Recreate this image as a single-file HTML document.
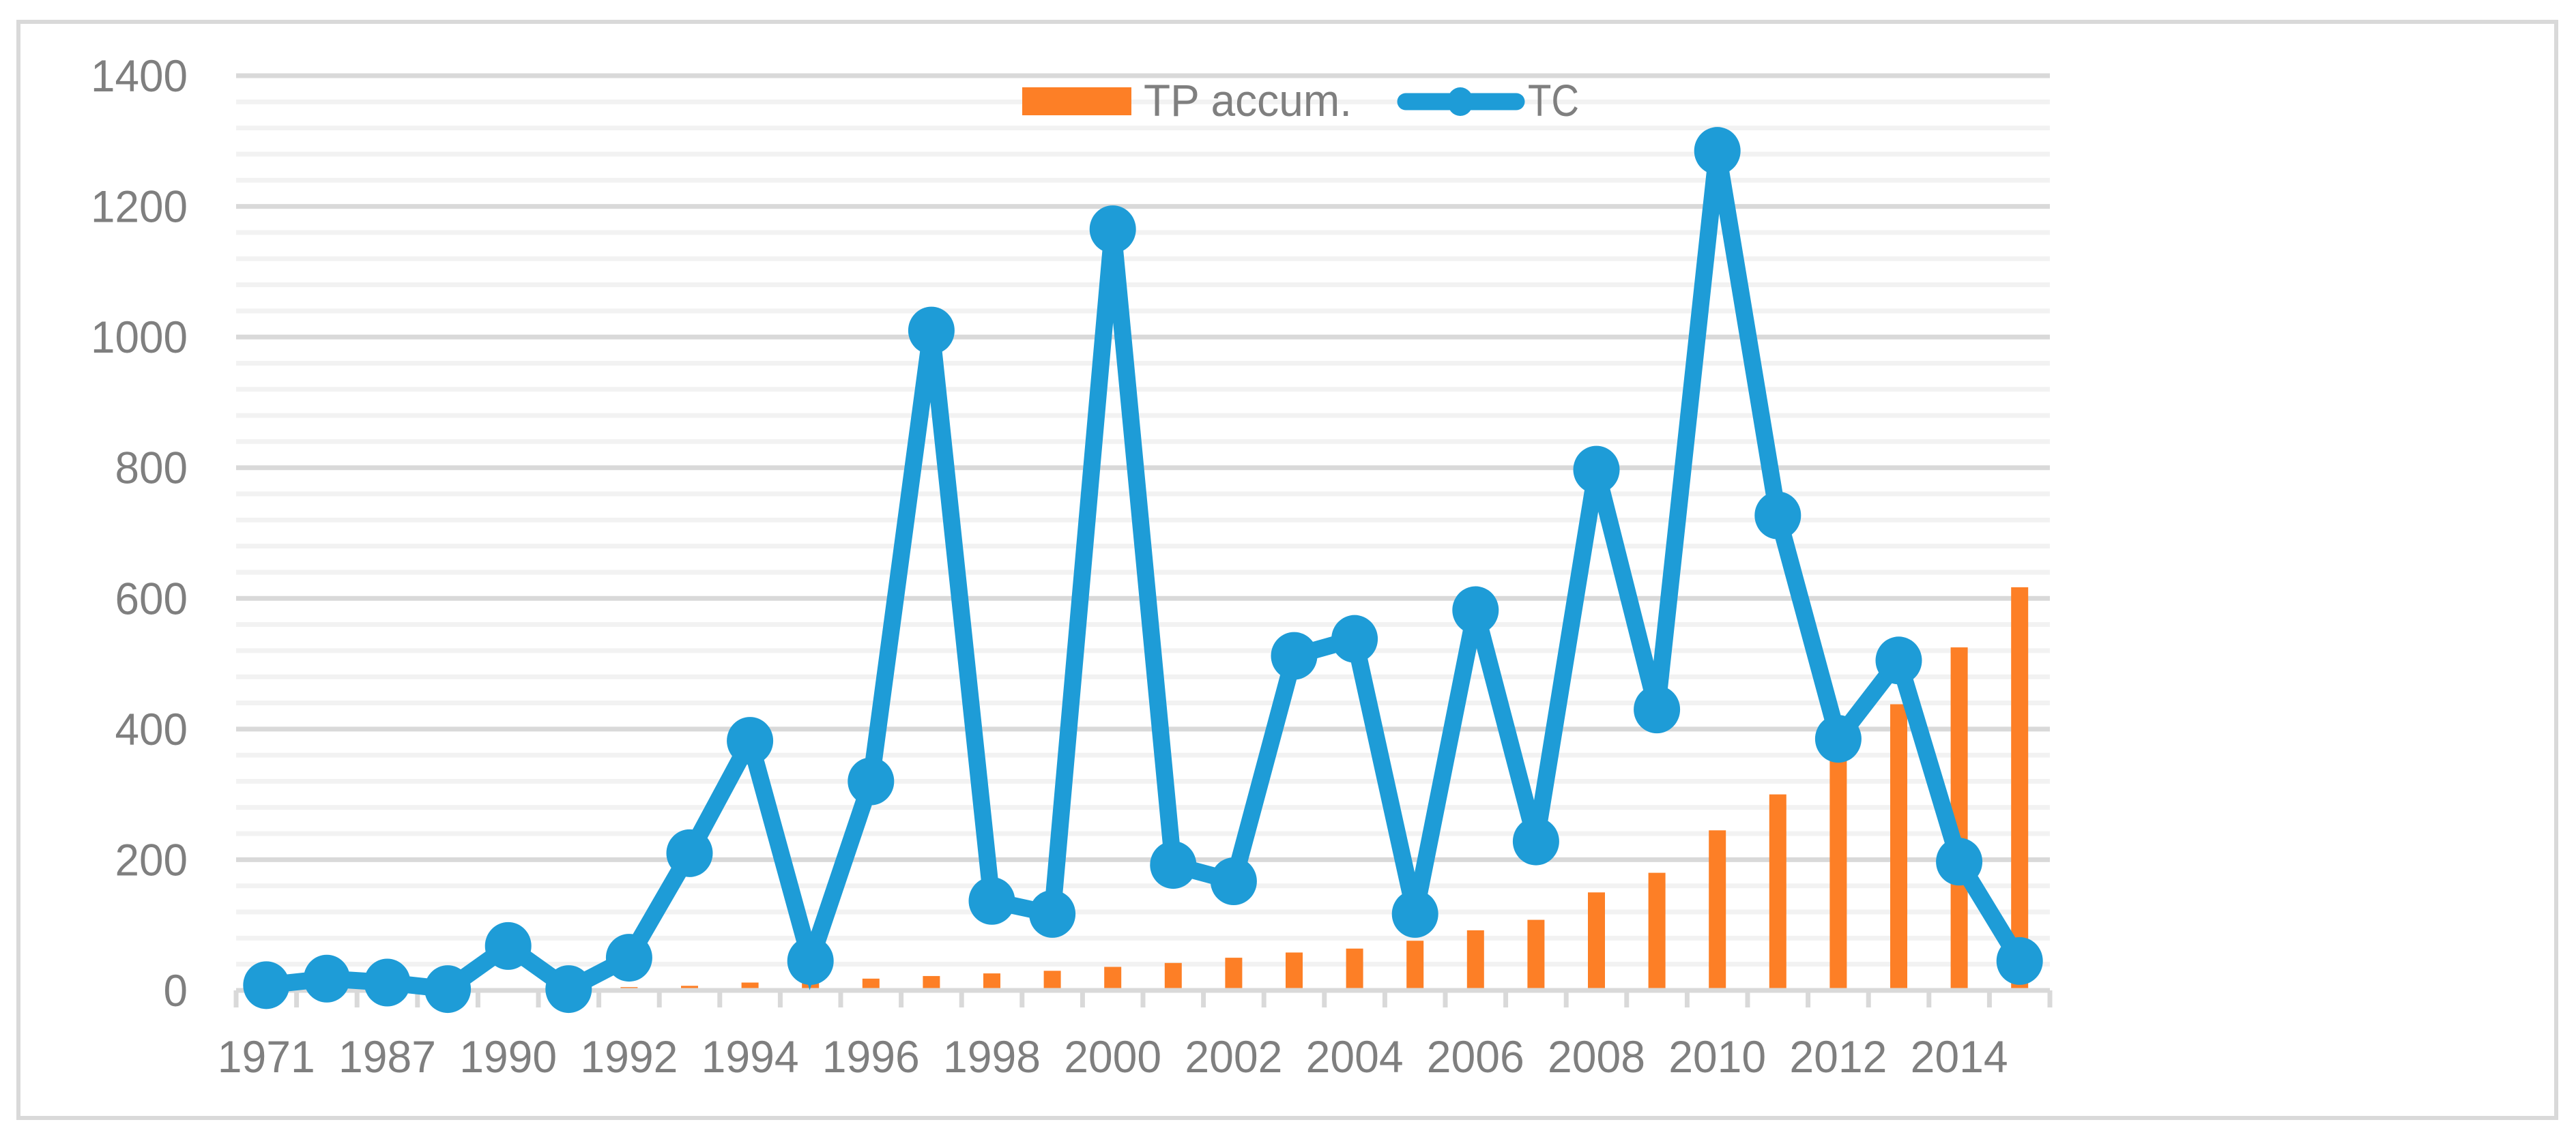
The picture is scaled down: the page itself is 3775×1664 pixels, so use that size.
<!DOCTYPE html>
<html><head><meta charset="utf-8"><style>
html,body{margin:0;padding:0;background:#fff;}
svg{display:block;}
text{font-family:"Liberation Sans",sans-serif;fill:#7f7f7f;}
</style></head><body>
<svg id="chart" width="3775" height="1664" viewBox="0 0 3775 1664" xmlns="http://www.w3.org/2000/svg">
<rect x="27" y="32" width="3719" height="1607" fill="#fff" stroke="#d9d9d9" stroke-width="6"/>
<g id="grid"></g>
<g id="bars"></g>
<g id="axis"></g>
<g id="line"></g>
<g id="legend">
<rect x="1498" y="128" width="160" height="41" fill="#fd7f26"/>
<text x="1676" y="170" font-size="66" textLength="305" lengthAdjust="spacingAndGlyphs">TP accum.</text>
<line x1="2060" y1="149" x2="2222" y2="149" stroke="#1e9cd7" stroke-width="25" stroke-linecap="round"/>
<ellipse cx="2140" cy="149" rx="19" ry="21" fill="#1e9cd7"/>
<text x="2239" y="170" font-size="66" textLength="75" lengthAdjust="spacingAndGlyphs">TC</text>
</g>
</svg>
<script>
const categories = ['1971','1986','1987','1989','1990','1991','1992','1993','1994','1995','1996','1997','1998','1999','2000','2001','2002','2003','2004','2005','2006','2007','2008','2009','2010','2011','2012','2013','2014','2015'];
const xTickLabels = ['1971','','1987','','1990','','1992','','1994','','1996','','1998','','2000','','2002','','2004','','2006','','2008','','2010','','2012','','2014',''];
const tcValues = [8,18,12,2,68,2,50,210,382,45,320,1010,137,117,1165,192,167,512,538,117,582,228,797,430,1285,727,385,505,197,45];
const tpValues = [0,0,0,0,2,1,5,7,12,15,18,22,26,30,36,42,50,58,64,76,92,108,150,180,245,300,370,438,525,617];
const yTicks = [0,200,400,600,800,1000,1200,1400];

const NS='http://www.w3.org/2000/svg';
const L=346,R=3004,Y0=1452,Y1=111,VMAX=1400;
const n=categories.length, bw=(R-L)/n;
function xC(i){return L+(i+0.5)*bw;}
function yV(v){return Y0-(v/VMAX)*(Y0-Y1);}
function mk(tag,attrs,parent){const e=document.createElementNS(NS,tag);for(const k in attrs)e.setAttribute(k,attrs[k]);parent.appendChild(e);return e;}

const grid=document.getElementById('grid');
for(let v=40;v<VMAX;v+=40){
  if(v%200===0)continue;
  const g=mk('line',{x1:L,x2:R,y1:yV(v),y2:yV(v),stroke:'#f2f2f2','stroke-width':7},grid);
  
  
}
yTicks.forEach(v=>{
  if(v>0){
    const g=mk('line',{x1:L,x2:R,y1:yV(v),y2:yV(v),stroke:'#d9d9d9','stroke-width':7},grid);
    
    
  }
  const s=String(v);
  const t=mk('text',{x:275,y:yV(v)+23,'font-size':66,'text-anchor':'end',textLength:s.length*35.5,lengthAdjust:'spacingAndGlyphs'},grid);
  t.textContent=s;
  
  
});

const bars=document.getElementById('bars');
tpValues.forEach((v,i)=>{
  if(v<=0)return;
  const b=mk('rect',{x:xC(i)-12.5,y:yV(v),width:25,height:Y0-yV(v),fill:'#fd7f26'},bars);
  
  
});

const axis=document.getElementById('axis');
const al=mk('line',{x1:L,x2:R,y1:Y0,y2:Y0,stroke:'#d9d9d9','stroke-width':7},axis);


for(let i=0;i<=n;i++){
  const x=L+i*bw;
  const tk=mk('line',{x1:x,x2:x,y1:Y0,y2:1477,stroke:'#d9d9d9','stroke-width':7},axis);
  
  
}
xTickLabels.forEach((s,i)=>{
  if(!s)return;
  const t=mk('text',{x:xC(i),y:1572,'font-size':66,'text-anchor':'middle',textLength:143,lengthAdjust:'spacingAndGlyphs'},axis);
  t.textContent=s;
  
  
});

const lineG=document.getElementById('line');
const pts=tcValues.map((v,i)=>xC(i)+','+yV(v)).join(' ');
const pl=mk('polyline',{points:pts,fill:'none',stroke:'#1e9cd7','stroke-width':25,'stroke-linejoin':'miter'},lineG);


tcValues.forEach((v,i)=>{
  const c=mk('ellipse',{cx:xC(i),cy:yV(v),rx:34,ry:35,fill:'#1e9cd7'},lineG);
  
  
});
</script>
</body></html>
